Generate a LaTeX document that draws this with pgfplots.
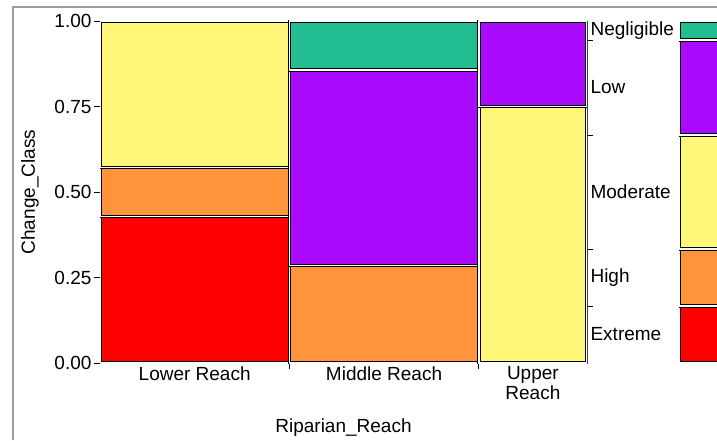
\documentclass[border=0pt]{standalone}
\usepackage{pgfplots}
\pgfplotsset{compat=1.18}
\usepackage{fontspec}
\setmainfont{Liberation Sans}

\definecolor{cRed}{RGB}{255,0,0}
\definecolor{cOra}{RGB}{255,148,58}
\definecolor{cYel}{RGB}{255,246,122}
\definecolor{cPur}{RGB}{170,10,255}
\definecolor{cGrn}{RGB}{34,190,145}

\newcommand{\lab}{\fontsize{19}{20}\selectfont}

% mosaic cell: black edge, white gap, black edge of the neighbour
\pgfplotsset{cell/.style={draw=black, line width=1pt, double=white,
    double distance=1.5pt, line join=miter, mark=none}}

\begin{document}
\begin{tikzpicture}
\useasboundingbox (0,0) rectangle (717pt,440pt);
\clip (0,0) rectangle (717pt,440pt);
\draw[black!38, line width=1.5pt] (13pt,0) -- (13pt,433pt) -- (717pt,433pt);

% main mosaic (column widths 7/18, 7/18, 4/18)
\begin{axis}[
    at={(100pt,77pt)}, anchor=south west,
    width=487pt, height=342pt, scale only axis,
    xmin=0, xmax=1, ymin=0, ymax=1,
    axis line style={black!75, line width=0.8pt},
    tick style={black, line width=0.8pt},
    tick align=outside, major tick length=6pt,
    xtick={0.3889,0.7778}, xticklabels={}, xtick pos=left,
    ytick={0,0.25,0.5,0.75,1}, yticklabels={0.00,0.25,0.50,0.75,1.00}, ytick pos=left,
    extra x ticks={0.1944,0.5833,0.8889},
    extra x tick labels={Lower Reach,Middle Reach,Upper\\Reach},
    extra x tick style={major tick length=0pt},
    tick label style={font=\lab},
    xticklabel style={align=center},
    yticklabel style={xshift=1pt},
    label style={font=\lab},
    xlabel={Riparian\_Reach},
    xlabel style={at={(axis description cs:0.5,-0.2018)}, anchor=base},
    ylabel={Change\_Class},
    ylabel style={at={(axis description cs:-0.1437,0.5)}, anchor=center},
]
% Lower Reach
\addplot[cell, fill=cRed] coordinates {(0,0) (0.3889,0) (0.3889,0.4286) (0,0.4286)} -- cycle;
\addplot[cell, fill=cOra] coordinates {(0,0.4286) (0.3889,0.4286) (0.3889,0.5714) (0,0.5714)} -- cycle;
\addplot[cell, fill=cYel] coordinates {(0,0.5714) (0.3889,0.5714) (0.3889,1) (0,1)} -- cycle;
% Middle Reach
\addplot[cell, fill=cOra] coordinates {(0.3889,0) (0.7778,0) (0.7778,0.2857) (0.3889,0.2857)} -- cycle;
\addplot[cell, fill=cPur] coordinates {(0.3889,0.2857) (0.7778,0.2857) (0.7778,0.8571) (0.3889,0.8571)} -- cycle;
\addplot[cell, fill=cGrn] coordinates {(0.3889,0.8571) (0.7778,0.8571) (0.7778,1) (0.3889,1)} -- cycle;
% Upper Reach
\addplot[cell, fill=cYel] coordinates {(0.7778,0) (1,0) (1,0.75) (0.7778,0.75)} -- cycle;
\addplot[cell, fill=cPur] coordinates {(0.7778,0.75) (1,0.75) (1,1) (0.7778,1)} -- cycle;
\end{axis}

% right-hand class labels at overall proportions
\begin{axis}[
    at={(100pt,77pt)}, anchor=south west,
    width=487pt, height=342pt, scale only axis,
    xmin=0, xmax=1, ymin=0, ymax=1,
    hide x axis, axis y line*=right,
    axis line style={black!75, line width=0.8pt},
    tick style={black, line width=0.8pt},
    tick align=outside, major tick length=6pt,
    ytick={0.1667,0.3333,0.6667,0.9444}, yticklabels={},
    extra y ticks={0.0833,0.25,0.5,0.8056,0.9722},
    extra y tick labels={Extreme,High,Moderate,Low,Negligible},
    extra y tick style={major tick length=0pt},
    tick label style={font=\lab},
]
\end{axis}

% marginal bar (cut off at the right edge)
\begin{axis}[
    at={(679pt,77pt)}, anchor=south west,
    width=60pt, height=342pt, scale only axis,
    xmin=0, xmax=1, ymin=0, ymax=1,
    ticks=none,
    axis line style={black, line width=0.8pt},
]
\addplot[cell, fill=cRed] coordinates {(0,0) (1,0) (1,0.1667) (0,0.1667)} -- cycle;
\addplot[cell, fill=cOra] coordinates {(0,0.1667) (1,0.1667) (1,0.3333) (0,0.3333)} -- cycle;
\addplot[cell, fill=cYel] coordinates {(0,0.3333) (1,0.3333) (1,0.6667) (0,0.6667)} -- cycle;
\addplot[cell, fill=cPur] coordinates {(0,0.6667) (1,0.6667) (1,0.9444) (0,0.9444)} -- cycle;
\addplot[cell, fill=cGrn] coordinates {(0,0.9444) (1,0.9444) (1,1) (0,1)} -- cycle;
\end{axis}
\end{tikzpicture}
\end{document}
